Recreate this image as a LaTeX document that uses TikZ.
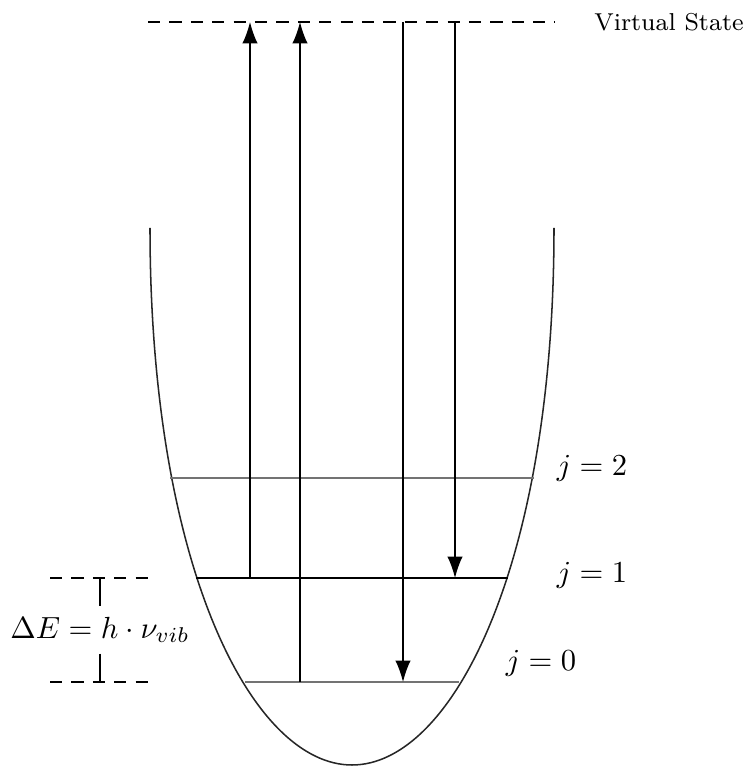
\documentclass[tikz,border=0pt]{standalone}
\usepackage{xcolor}
\usetikzlibrary{arrows.meta}

\begin{document}
\begin{tikzpicture}[x=1.15cm, y=1.15cm,
    level/.style={black!55},
    dashline/.style={dash pattern=on 4pt off 3pt},
    photon/.style={-{Latex[length=7pt,width=5pt]}}]
      % \draw[help lines, gray!50, very thin] (0,0) grid (7,7);
      \useasboundingbox (0,0) rectangle (7.47,7.67);

      % potential well
      \draw[black!85, line width=0.5pt] (1.50,5.39) .. controls (1.50,2.01) and (2.52,0.02) .. (3.52,0.02)
            .. controls (4.52,0.02) and (5.54,2.01) .. (5.54,5.39);

      % vibrational levels
      \draw[level] (1.70,2.89) -- (5.34,2.89);
      \draw (1.96,1.89) -- (5.08,1.89);
      \draw[level] (2.45,0.85) -- (4.59,0.85);
      \node (j2) at (5.92,2.99) {$j=2$};
      \node (j1) at (5.92,1.92) {$j=1$};
      \node (j0) at (5.41,1.04) {$j=0$};

      % virtual state
      \draw[dashline] (1.48,7.45) -- (5.55,7.45);
      \node[font=\footnotesize] (vs) at (6.69,7.45) {Virtual State};

      % transitions
      \coordinate (a1) at (2.50,1.89); \coordinate (b1) at (2.50,7.45);
      \coordinate (a2) at (3.00,0.85); \coordinate (b2) at (3.00,7.45);
      \coordinate (a3) at (4.03,7.45); \coordinate (b3) at (4.03,0.85);
      \coordinate (a4) at (4.55,7.45); \coordinate (b4) at (4.55,1.89);
      \draw[photon] (a1) -- (b1);
      \draw[photon] (a2) -- (b2);
      \draw[photon] (a3) -- (b3);
      \draw[photon] (a4) -- (b4);

      % energy gap
      \draw[dashline] (0.50,1.89) -- (1.50,1.89);
      \draw[dashline] (0.50,0.85) -- (1.50,0.85);
      \node (dE) at (1.00,1.37) {$\Delta E = h\cdot\nu_{vib}$};
      \coordinate (gt) at (1.00,1.89);
      \coordinate (gb) at (1.00,0.85);
      \draw (gt) -- (dE.north);
      \draw (dE.south) -- (gb);
    \end{tikzpicture}
\end{document}
